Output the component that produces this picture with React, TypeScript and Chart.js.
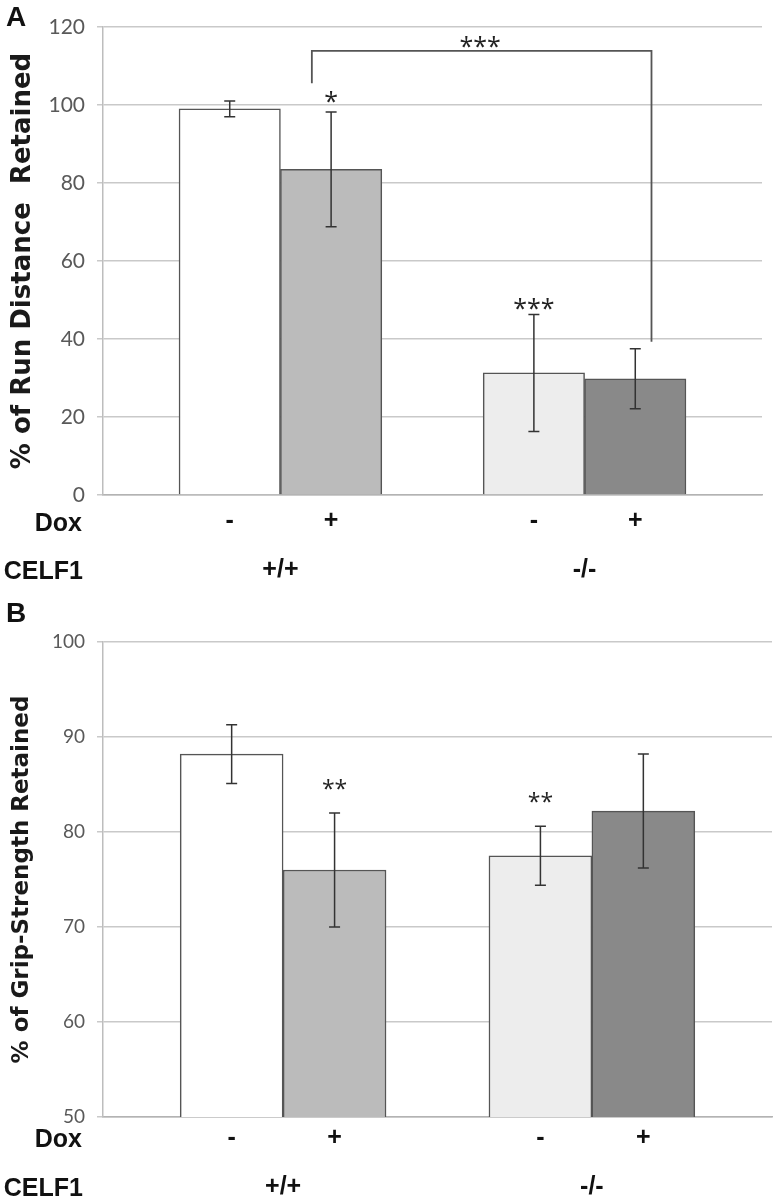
import React, { useEffect, useRef } from "react";
import { Chart, registerables } from "chart.js";

Chart.register(...registerables);

// ---------- shared category data ----------
const DOX_LABELS = ["-", "+", "-", "+"];
const DOX_POS = [0, 1, 3, 4];
const CELF1_LABELS = ["+/+", "-/-"];
const CELF1_POS = [0.5, 3.5];
const BAR_COLORS = ["#ffffff", "#bbbbbb", "#ededed", "#898989"];
const X_MIN = -1.25;
const X_MAX = 5.25;

// ---------- panel A: run distance ----------
const RUN_TITLE = "% of Run Distance  Retained";
const RUN_MEAN = [99.0, 83.5, 31.3, 29.8];
const RUN_ERR = [2.0, 14.7, 15.0, 7.7];
const RUN_Y_MIN = 0;
const RUN_Y_MAX = 120;
const RUN_Y_STEP = 20;
const RUN_STARS = ["*", "***"];
const RUN_STAR_X = [1, 3];
const RUN_STAR_Y = [98.6, 45.6];
const RUN_BRACKET_X = [0.81, 4.16];
const RUN_BRACKET_TOP = 113.9;
const RUN_BRACKET_ENDS = [105.6, 39.3];
const RUN_BRACKET_LABEL = "***";
const RUN_BRACKET_LABEL_X = 2.47;
const RUN_BRACKET_LABEL_Y = 112.8;

// ---------- panel B: grip strength ----------
const GRIP_TITLE = "% of Grip-Strength Retained";
const GRIP_MEAN = [88.2, 76.0, 77.5, 82.2];
const GRIP_ERR = [3.1, 6.0, 3.1, 6.0];
const GRIP_Y_MIN = 50;
const GRIP_Y_MAX = 100;
const GRIP_Y_STEP = 10;
const GRIP_STARS = ["**", "**"];
const GRIP_STAR_X = [1, 3];
const GRIP_STAR_Y = [83.7, 82.3];

type PanelCfg = {
  top: number;
  height: number;
  title: string;
  titleSize: number;
  tickSize: number;
  mean: number[];
  err: number[];
  yMin: number;
  yMax: number;
  yStep: number;
  stars: string[];
  starX: number[];
  starY: number[];
  starSize: number;
  bracket?: {
    x: number[];
    top: number;
    ends: number[];
    label: string;
    labelX: number;
    labelY: number;
  };
  padding: { top: number; right: number; bottom: number };
  h1: number;
  h2: number;
  pad1: number;
  pad2: number;
};

function makeAnnotPlugin(cfg: PanelCfg) {
  return {
    id: "annot",
    afterDatasetsDraw(chart: any) {
      const { ctx } = chart;
      const xs = chart.scales.x;
      const ys = chart.scales.y;
      ctx.save();
      // error bars
      ctx.strokeStyle = "#333333";
      ctx.lineWidth = 1.5;
      const cap = 5.5;
      cfg.mean.forEach((m, i) => {
        const px = xs.getPixelForValue(DOX_POS[i]);
        const pHi = ys.getPixelForValue(m + cfg.err[i]);
        const pLo = ys.getPixelForValue(m - cfg.err[i]);
        ctx.beginPath();
        ctx.moveTo(px, pHi);
        ctx.lineTo(px, pLo);
        ctx.moveTo(px - cap, pHi);
        ctx.lineTo(px + cap, pHi);
        ctx.moveTo(px - cap, pLo);
        ctx.lineTo(px + cap, pLo);
        ctx.stroke();
      });
      // bracket
      if (cfg.bracket) {
        const b = cfg.bracket;
        ctx.strokeStyle = "#555555";
        ctx.lineWidth = 1.8;
        ctx.beginPath();
        ctx.moveTo(xs.getPixelForValue(b.x[0]), ys.getPixelForValue(b.ends[0]));
        ctx.lineTo(xs.getPixelForValue(b.x[0]), ys.getPixelForValue(b.top));
        ctx.lineTo(xs.getPixelForValue(b.x[1]), ys.getPixelForValue(b.top));
        ctx.lineTo(xs.getPixelForValue(b.x[1]), ys.getPixelForValue(b.ends[1]));
        ctx.stroke();
      }
      // stars
      ctx.fillStyle = "#222222";
      ctx.font = `${cfg.starSize}px "Open Sans"`;
      ctx.textAlign = "center";
      ctx.textBaseline = "alphabetic";
      cfg.stars.forEach((s, i) => {
        ctx.fillText(s, xs.getPixelForValue(cfg.starX[i]), ys.getPixelForValue(cfg.starY[i]));
      });
      if (cfg.bracket) {
        ctx.fillText(
          cfg.bracket.label,
          xs.getPixelForValue(cfg.bracket.labelX),
          ys.getPixelForValue(cfg.bracket.labelY)
        );
      }
      ctx.restore();
    },
  };
}

function Panel({ cfg }: { cfg: PanelCfg }) {
  const ref = useRef<HTMLCanvasElement>(null);
  useEffect(() => {
    const labelFont = { family: "Liberation Sans", size: 25, weight: "bold" as const };
    const chart = new Chart(ref.current as HTMLCanvasElement, {
      type: "bar",
      data: {
        datasets: [
          {
            data: cfg.mean.map((v, i) => ({ x: DOX_POS[i], y: v })) as any,
            backgroundColor: BAR_COLORS,
            borderColor: "#555555",
            borderWidth: 1.5,
            barPercentage: 1,
            categoryPercentage: 1,
          },
        ],
      },
      options: {
        animation: false,
        responsive: false,
        events: [],
        layout: { padding: { left: 0, ...cfg.padding } },
        plugins: { legend: { display: false }, tooltip: { enabled: false } },
        scales: {
          x: {
            type: "linear",
            position: "bottom",
            min: X_MIN,
            max: X_MAX,
            offset: false,
            weight: 0,
            grid: { display: false, drawTicks: false, offset: false },
            border: { display: true, color: "#b3b3b3", width: 1.5 },
            afterBuildTicks: (s: any) => {
              s.ticks = DOX_POS.map((v) => ({ value: v }));
            },
            afterFit: (s: any) => {
              s.height = cfg.h1;
            },
            ticks: {
              autoSkip: false,
              maxRotation: 0,
              padding: cfg.pad1,
              color: "#111111",
              font: labelFont,
              callback: (_v: any, i: number) => DOX_LABELS[i],
            },
          } as any,
          x2: {
            type: "linear",
            position: "bottom",
            min: X_MIN,
            max: X_MAX,
            offset: false,
            weight: 1,
            grid: { display: false, drawTicks: false },
            border: { display: false },
            afterBuildTicks: (s: any) => {
              s.ticks = CELF1_POS.map((v) => ({ value: v }));
            },
            afterFit: (s: any) => {
              s.height = cfg.h2;
            },
            ticks: {
              autoSkip: false,
              maxRotation: 0,
              padding: cfg.pad2,
              color: "#111111",
              font: labelFont,
              callback: (_v: any, i: number) => CELF1_LABELS[i],
            },
          } as any,
          y: {
            min: cfg.yMin,
            max: cfg.yMax,
            ticks: {
              stepSize: cfg.yStep,
              padding: 12,
              color: "#595959",
              font: { family: "Lato", size: cfg.tickSize },
            },
            grid: { color: "#c9c9c9", lineWidth: 1.5, tickLength: 6 },
            border: { color: "#bdbdbd", width: 1.5 },
            afterFit: (s: any) => {
              s.width = 103;
            },
            title: {
              display: true,
              text: cfg.title,
              color: "#1a1a1a",
              font: { family: "DejaVu Sans", size: cfg.titleSize, weight: "bold" },
              padding: { top: 8, bottom: 0 },
            },
          } as any,
        },
      },
      plugins: [makeAnnotPlugin(cfg)],
    });
    return () => chart.destroy();
  }, [cfg]);
  return (
    <div style={{ position: "absolute", left: 0, top: cfg.top, width: 774, height: cfg.height }}>
      <canvas ref={ref} width={774} height={cfg.height} style={{ width: 774, height: cfg.height, display: "block" }} />
    </div>
  );
}

const PANEL_A: PanelCfg = {
  top: 0,
  height: 600,
  title: RUN_TITLE,
  titleSize: 26,
  tickSize: 21,
  mean: RUN_MEAN,
  err: RUN_ERR,
  yMin: RUN_Y_MIN,
  yMax: RUN_Y_MAX,
  yStep: RUN_Y_STEP,
  stars: RUN_STARS,
  starX: RUN_STAR_X,
  starY: RUN_STAR_Y,
  starSize: 25,
  bracket: {
    x: RUN_BRACKET_X,
    top: RUN_BRACKET_TOP,
    ends: RUN_BRACKET_ENDS,
    label: RUN_BRACKET_LABEL,
    labelX: RUN_BRACKET_LABEL_X,
    labelY: RUN_BRACKET_LABEL_Y,
  },
  padding: { top: 27, right: 12, bottom: 5 },
  h1: 50,
  h2: 50,
  pad1: 11,
  pad2: 10,
};

const PANEL_B: PanelCfg = {
  top: 600,
  height: 599,
  title: GRIP_TITLE,
  titleSize: 23,
  tickSize: 19,
  mean: GRIP_MEAN,
  err: GRIP_ERR,
  yMin: GRIP_Y_MIN,
  yMax: GRIP_Y_MAX,
  yStep: GRIP_Y_STEP,
  stars: GRIP_STARS,
  starX: GRIP_STAR_X,
  starY: GRIP_STAR_Y,
  starSize: 23,
  padding: { top: 42, right: 2, bottom: 0 },
  h1: 45,
  h2: 37,
  pad1: 6,
  pad2: 10,
};

const boldLabel: React.CSSProperties = {
  position: "absolute",
  fontFamily: "Liberation Sans",
  fontWeight: "bold",
  fontSize: 25,
  lineHeight: "30px",
  color: "#111111",
  textAlign: "right",
  left: 0,
  whiteSpace: "nowrap",
};

const panelLetter: React.CSSProperties = {
  position: "absolute",
  fontFamily: "Liberation Sans",
  fontWeight: "bold",
  fontSize: 28,
  lineHeight: "28px",
  color: "#111111",
  left: 6,
};

export default function App() {
  return (
    <div style={{ position: "absolute", left: 0, top: 0, width: 774, height: 1199, background: "#ffffff", overflow: "hidden" }}>
      <Panel cfg={PANEL_A} />
      <Panel cfg={PANEL_B} />
      <div style={{ ...panelLetter, top: 3 }}>A</div>
      <div style={{ ...panelLetter, top: 599 }}>B</div>
      <div style={{ ...boldLabel, top: 507, width: 82 }}>Dox</div>
      <div style={{ ...boldLabel, top: 555, width: 83 }}>CELF1</div>
      <div style={{ ...boldLabel, top: 1123, width: 82 }}>Dox</div>
      <div style={{ ...boldLabel, top: 1172, width: 83 }}>CELF1</div>
    </div>
  );
}
